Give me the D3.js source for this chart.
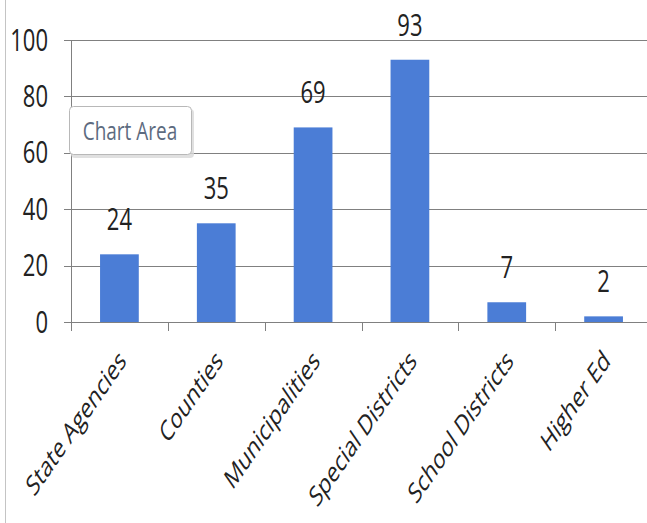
<!DOCTYPE html>
<html><head><meta charset="utf-8">
<script src="https://cdn.jsdelivr.net/npm/d3@7"></script>
<style>body{margin:0;background:#fff}svg{display:block}</style>
</head><body>
<script>
const categories = ["State Agencies","Counties","Municipalities","Special Districts","School Districts","Higher Ed"];
const values = [24,35,69,93,7,2];
const yTicks = [0,20,40,60,80,100];

const W=647,H=523, SY=1.37, FONT="'Open Sans', sans-serif";
const svg=d3.select("body").append("svg").attr("width",W).attr("height",H);
svg.append("rect").attr("width",W).attr("height",H).attr("fill","#fff");
svg.append("line").attr("x1",5.5).attr("x2",5.5).attr("y1",0).attr("y2",H).attr("stroke","#c4c4c4");

const x=d3.scaleBand().domain(categories).range([71,652]).padding(0);
const y=d3.scaleLinear().domain([0,100]).range([322,40]);
const bw=x.bandwidth();

// gridlines
svg.append("g").selectAll("line").data(yTicks).join("line")
  .attr("x1",64).attr("x2",W).attr("y1",d=>Math.round(y(d))+0.5).attr("y2",d=>Math.round(y(d))+0.5)
  .attr("stroke","#808080").attr("stroke-width",1);
// y axis line
svg.append("line").attr("x1",71.5).attr("x2",71.5).attr("y1",40).attr("y2",331).attr("stroke","#808080");
// x ticks
svg.append("g").selectAll("line").data(categories.slice(1)).join("line")
  .attr("x1",d=>Math.round(x(d))+0.5).attr("x2",d=>Math.round(x(d))+0.5).attr("y1",322).attr("y2",331)
  .attr("stroke","#808080");

// y labels
svg.append("g").selectAll("text").data(yTicks).join("text")
  .attr("transform",d=>`translate(48,${y(d)+10.5}) scale(1,${SY})`)
  .attr("text-anchor","end").attr("font-family",FONT).attr("font-size",22).attr("fill","#222")
  .text(d=>d);

// bars
svg.append("g").selectAll("rect").data(values).join("rect")
  .attr("x",(d,i)=>x(categories[i])+bw*0.3).attr("width",bw*0.4)
  .attr("y",d=>y(d)).attr("height",d=>y(0)-y(d)).attr("fill","#4b7dd6");

// data labels
svg.append("g").selectAll("text").data(values).join("text")
  .attr("transform",(d,i)=>`translate(${x(categories[i])+bw/2},${y(d)-24}) scale(1,${SY})`)
  .attr("text-anchor","middle").attr("font-family",FONT).attr("font-size",22).attr("fill","#222")
  .text(d=>d);

// category labels
svg.append("g").selectAll("text").data(categories).join("text")
  .attr("transform",d=>`translate(${x(d)+bw/2-2},348) scale(1,1.45) rotate(-45)`)
  .attr("text-anchor","end").attr("dy","0.72em").attr("font-family",FONT).attr("font-size",19.5).attr("fill","#222")
  .text(d=>d);

// Chart Area tooltip
const tip=svg.append("g");
tip.append("rect").attr("x",71).attr("y",109).attr("width",123).attr("height",49).attr("rx",4)
  .attr("fill","#d8d8d8").attr("opacity",0.8);
tip.append("rect").attr("x",69.5).attr("y",106.5).attr("width",122).attr("height",48).attr("rx",4)
  .attr("fill","#fff").attr("stroke","#b8b8b8");
tip.append("text").attr("transform",`translate(130,140) scale(1,${SY})`).attr("text-anchor","middle")
  .attr("font-family",FONT).attr("font-size",19).attr("fill","#5d6b80").text("Chart Area");
</script>
</body></html>
